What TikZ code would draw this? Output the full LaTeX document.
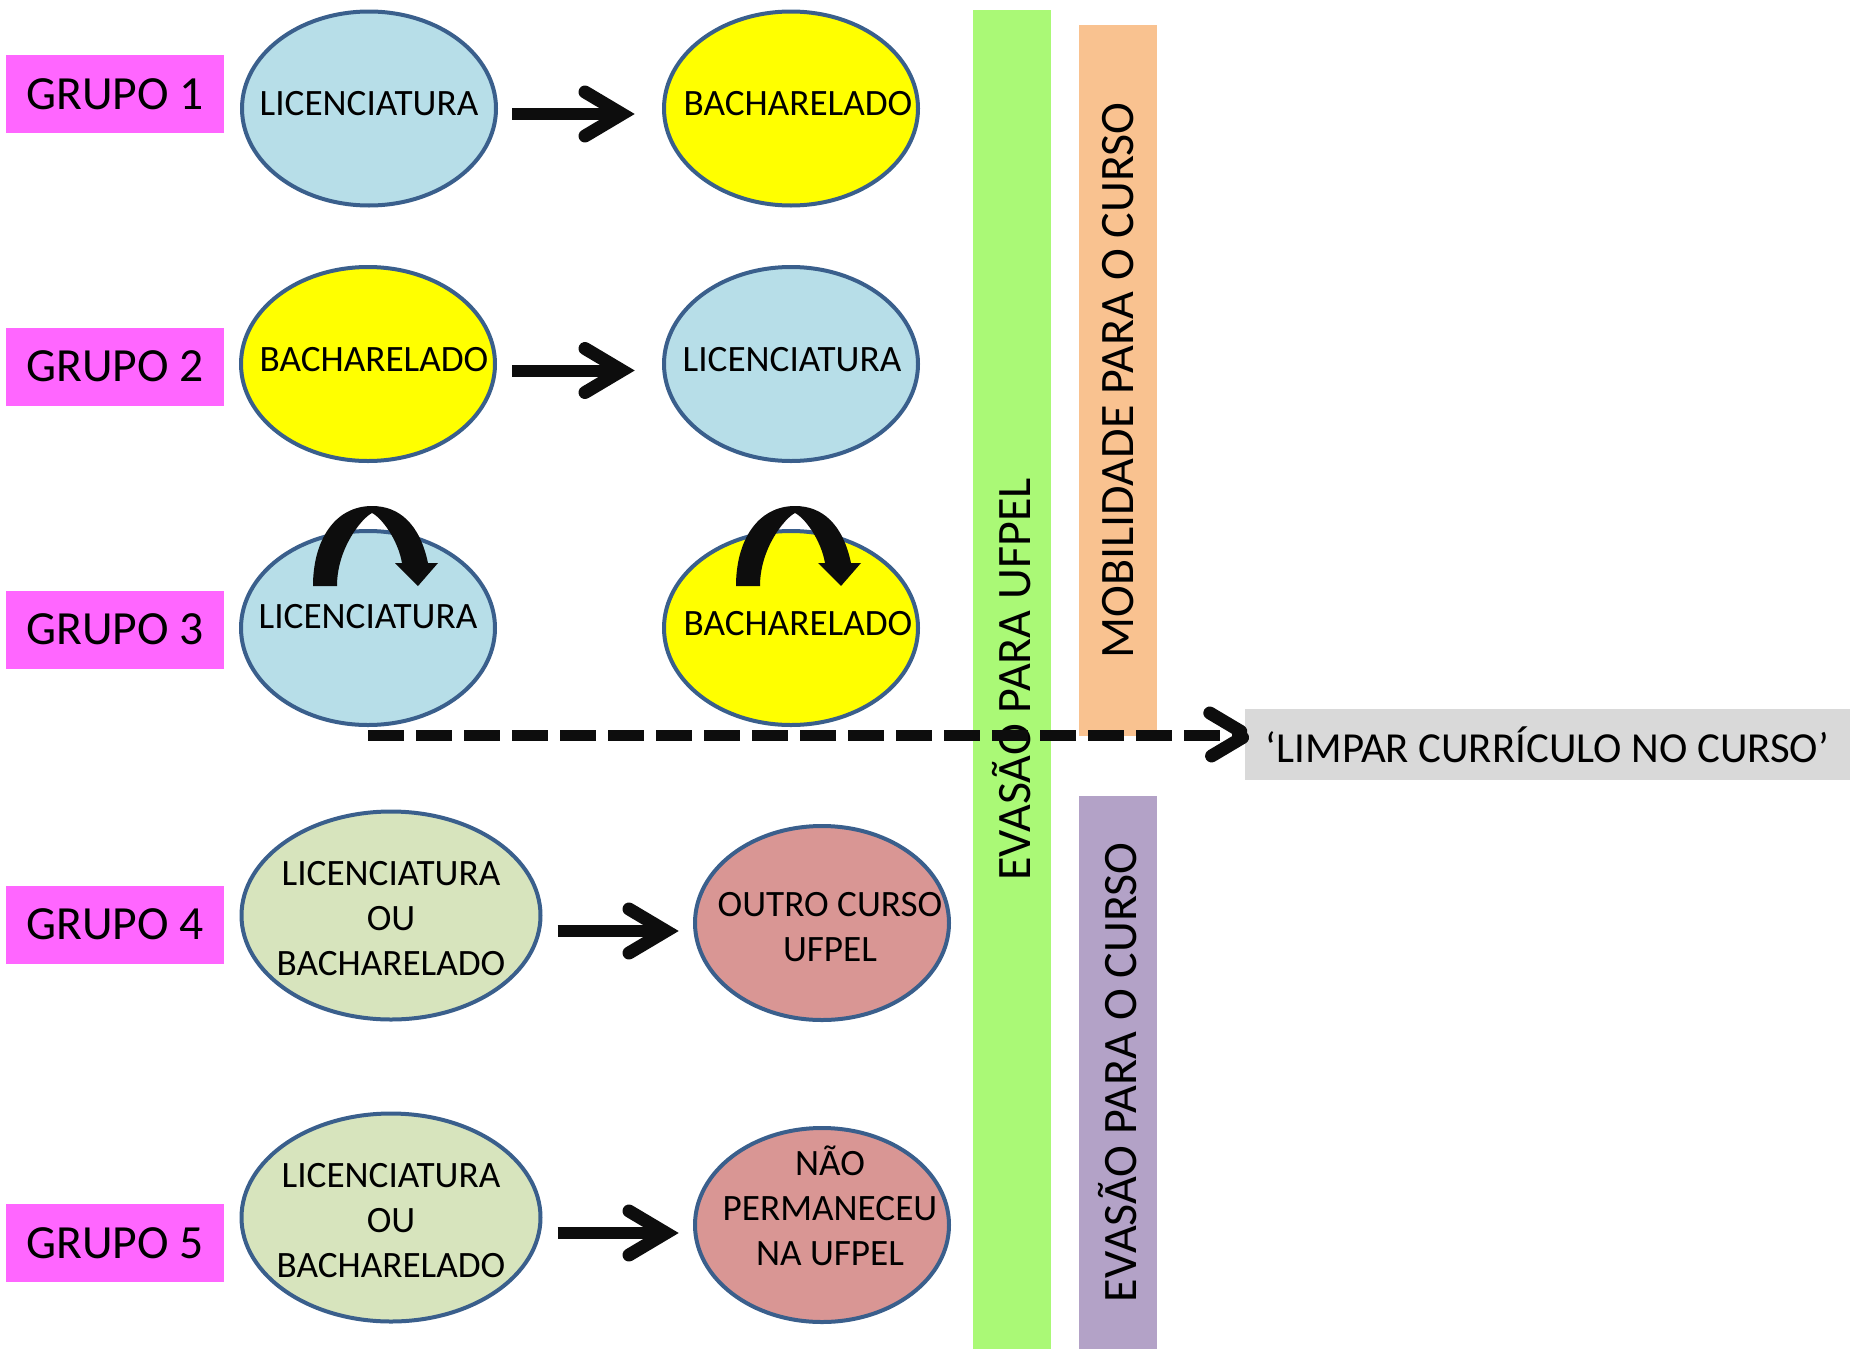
\documentclass[tikz,border=0pt]{standalone}
\usepackage{fontspec}
\setmainfont{Carlito}
\usetikzlibrary{shapes.geometric,calc}
\definecolor{grupo}{HTML}{FF66FF}
\definecolor{lblue}{HTML}{B7DEE8}
\definecolor{yel}{HTML}{FFFF00}
\definecolor{olv}{HTML}{D7E4BD}
\definecolor{rose}{HTML}{D99694}
\definecolor{edge}{HTML}{3A5F8C}
\definecolor{gbar}{HTML}{AAF976}
\definecolor{obar}{HTML}{F9C290}
\definecolor{pbar}{HTML}{B3A2C7}
\definecolor{gbox}{HTML}{D9D9D9}
\definecolor{ink}{HTML}{0D0D0D}
\tikzset{
  grupobox/.style={fill=grupo, minimum width=218pt, minimum height=78pt, inner sep=0pt, font=\fontsize{47.6}{56}\selectfont},
  ellsm/.style={ellipse, draw=edge, line width=4pt, minimum width=254pt, minimum height=194pt, inner sep=0pt},
  elllg/.style={ellipse, draw=edge, line width=4pt, minimum width=299pt, minimum height=208pt, inner sep=0pt},
  etxt/.style={font=\fontsize{37.2}{45}\selectfont, align=center, inner sep=0pt},
  barnode/.style={rotate=90, inner sep=0pt, minimum height=78pt, font=\fontsize{48}{56}\selectfont},
  shaft/.style={draw=ink, line width=12pt},
  dashline/.style={draw=ink, line width=11pt, dash pattern=on 36pt off 12pt},
  chev/.pic={\draw[draw=ink, line width=13pt, line cap=round, line join=miter, miter limit=10] (-37,-22) -- (0,0) -- (-37,22);},
  curarrow/.pic={\fill[ink] (-55,-42) -- (-31,-42) .. controls (-31,-80) and (-6,-110) .. (4,-115) .. controls (14,-110) and (30,-88) .. (34,-65) -- (27,-65) -- (50,-42) -- (70,-65) -- (60,-65) .. controls (52,-103) and (32,-122) .. (4,-122) .. controls (-33,-122) and (-55,-88) .. (-55,-42) -- cycle;}
}
\begin{document}
\begin{tikzpicture}[x=1pt,y=-1pt]
\useasboundingbox (0,0) rectangle (1850,1349);
% bars
\node[barnode, fill=gbar, minimum width=1339pt] (EU) at (1012,679.5) {EVASÃO PARA UFPEL};
\node[barnode, fill=obar, minimum width=711pt] (MC) at (1118,380.5) {MOBILIDADE PARA O CURSO};
\node[barnode, fill=pbar, minimum width=553pt] (EC) at (1118,1072.5) {EVASÃO PARA O CURSO};
% grupo labels
\node[grupobox] (G1) at (115,94) {GRUPO 1};
\node[grupobox] (G2) at (115,366.5) {GRUPO 2};
\node[grupobox] (G3) at (115,629.5) {GRUPO 3};
\node[grupobox] (G4) at (115,924.5) {GRUPO 4};
\node[grupobox] (G5) at (115,1243) {GRUPO 5};
% ellipses
\node[ellsm, fill=lblue] (L1) at (369,108.5) {};
\node[ellsm, fill=yel] (R1) at (791,108.5) {};
\node[ellsm, fill=yel] (L2) at (368,364) {};
\node[ellsm, fill=lblue] (R2) at (791,364) {};
\node[ellsm, fill=lblue] (L3) at (368,628) {};
\node[ellsm, fill=yel] (R3) at (791,628) {};
\node[elllg, fill=olv] (L4) at (391,915.5) {};
\node[ellsm, fill=rose] (R4) at (822,923) {};
\node[elllg, fill=olv] (L5) at (391,1217.5) {};
\node[ellsm, fill=rose] (R5) at (822,1225) {};
% texts
\node[etxt] (L1t) at ($(L1)+(0,-5)$) {LICENCIATURA};
\node[etxt] (R1t) at ($(R1)+(7,-5)$) {BACHARELADO};
\node[etxt] (L2t) at ($(L2)+(6,-4)$) {BACHARELADO};
\node[etxt] (R2t) at ($(R2)+(1,-4)$) {LICENCIATURA};
\node[etxt] (L3t) at ($(L3)+(0,-11)$) {LICENCIATURA};
\node[etxt] (R3t) at ($(R3)+(7,-4)$) {BACHARELADO};
\node[etxt] (L4t) at ($(L4)+(0,3.5)$) {LICENCIATURA\\OU\\BACHARELADO};
\node[etxt] (R4t) at ($(R4)+(8,4)$) {OUTRO CURSO\\UFPEL};
\node[etxt] (L5t) at ($(L5)+(0,3.5)$) {LICENCIATURA\\OU\\BACHARELADO};
\node[etxt] (R5t) at ($(R5)+(8,-19.5)$) {NÃO\\PERMANECEU\\NA UFPEL};
% curved arrows
\pic at (L3) {curarrow};
\pic at (R3) {curarrow};
% straight arrows
\draw[shaft] ($(L1.east)+(14,5.5)$) -- ($(R1.west)+(-40,5.5)$) pic {chev};
\draw[shaft] ($(L2.east)+(15,6.5)$) -- ($(R2.west)+(-40,6.5)$) pic {chev};
\draw[shaft] ($(L4.east)+(15,15.5)$) -- ($(R4.west)+(-27,8)$) pic {chev};
\draw[shaft] ($(L5.east)+(15,15.5)$) -- ($(R5.west)+(-27,8)$) pic {chev};
% limpar box
\node[fill=gbox, minimum width=605pt, minimum height=71pt, inner sep=0pt, font=\fontsize{42.8}{50}\selectfont] (LIM) at (1547.5,744.5) {‘LIMPAR CURRÍCULO NO CURSO’};
% dashed arrow
\coordinate (dstart) at (368,735);
\draw[dashline] (dstart) -- ($(dstart -| LIM.west)+(2,0)$) pic {chev};
\end{tikzpicture}
\end{document}
